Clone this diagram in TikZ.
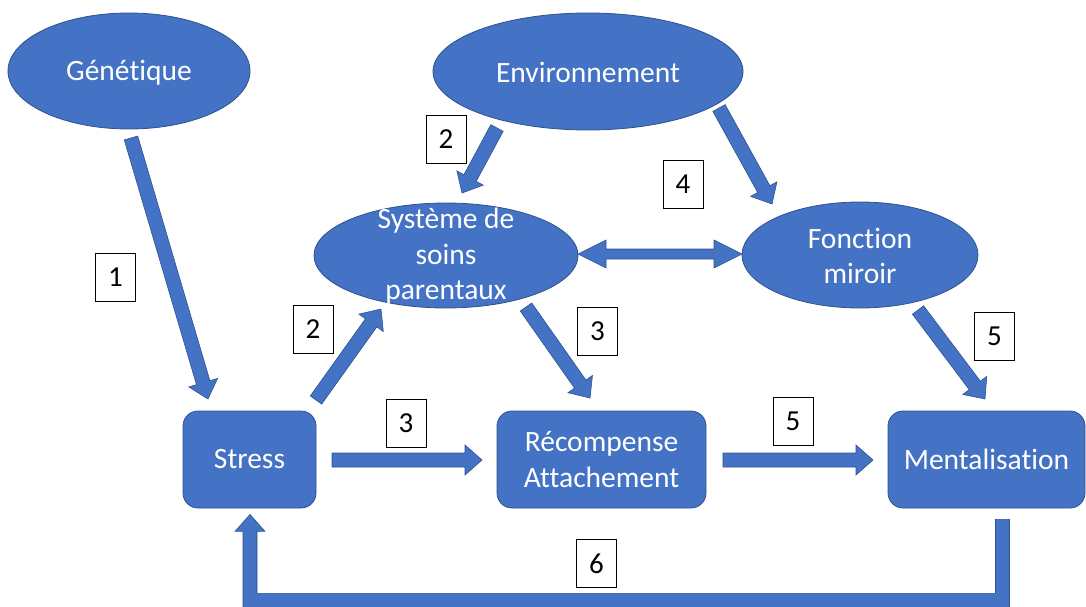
\documentclass[tikz,border=0pt]{standalone}
\usepackage{fontspec}
\setmainfont[Ligatures=NoCommon]{Carlito}
\usetikzlibrary{shapes.geometric,calc}
\definecolor{bfill}{HTML}{4472C4}
\definecolor{bline}{HTML}{2F528F}
\tikzset{
  ell/.style={ellipse, fill=bfill, draw=bline, line width=0.8pt, inner sep=0pt},
  rbox/.style={rectangle, rounded corners=15pt, fill=bfill, draw=bline, line width=0.8pt, inner sep=0pt, align=center, text=white, font=\fontsize{29.5}{35.5}\selectfont},
  txt/.style={text=white, align=center, inner sep=0pt, font=\fontsize{29.5}{35.5}\selectfont},
  numbox/.style={rectangle, draw=black, line width=1pt, fill=white, minimum width=40pt, minimum height=48pt, inner sep=0pt, font=\fontsize{29}{34}\selectfont},
  arrowshape/.style={fill=bfill, draw=bline, line width=0.6pt, line join=miter}
}
\newcommand\blockarr[2]{%
  \coordinate (bh) at ($(#2)!17pt!(#1)$);
  \path[arrowshape] ($(#1)!7pt!90:(#2)$) -- ($(bh)!7pt!90:(#2)$) -- ($(bh)!15pt!90:(#2)$) -- (#2)
    -- ($(bh)!15pt!-90:(#2)$) -- ($(bh)!7pt!-90:(#2)$) -- ($(#1)!7pt!-90:(#2)$) -- cycle;}
\begin{document}
\begin{tikzpicture}[x=1pt,y=-1pt]
\useasboundingbox (0,0) rectangle (1086,607);
% shapes
\node[ell, minimum width=242pt, minimum height=116pt] (gen) at (129,71) {};
\node[txt] at ($(gen)+(0,1.5)$) {Génétique};
\node[ell, minimum width=310pt, minimum height=117pt] (env) at (588,71.5) {};
\node[txt] at ($(env)+(0,0.5)$) {Environnement};
\node[ell, minimum width=264pt, minimum height=105pt] (sys) at (446,255.5) {};
\node[txt] at ($(sys)+(0,1)$) {Système de\\soins\\parentaux};
\node[ell, minimum width=236pt, minimum height=106pt] (fon) at (860,255) {};
\node[txt] at ($(fon)+(0,1)$) {Fonction\\miroir};
\node[rbox, minimum width=133pt, minimum height=97pt] (str) at (249.5,459.5) {Stress};
\node[rbox, minimum width=209pt, minimum height=97pt] (rec) at (601.5,459.5) {Récompense\\Attachement};
\node[rbox, minimum width=197pt, minimum height=97pt] (men) at (986.5,459.5) {Mentalisation};
% arrow end points
\coordinate (a1t) at (131,138);   \coordinate (a1h) at (208,399);
\coordinate (a2t) at (316,400);   \coordinate (a2h) at (381,309);
\coordinate (b2t) at (497,128);   \coordinate (b2h) at (462,193);
\coordinate (b4t) at (719,108);   \coordinate (b4h) at (772,204);
\coordinate (c3t) at (526,307);   \coordinate (c3h) at (590,398);
\coordinate (c5t) at (918,310);   \coordinate (c5h) at (985,399);
\coordinate (h3t) at (332,460);   \coordinate (h3h) at (482,460);
\coordinate (h5t) at (723,460);   \coordinate (h5h) at (873,460);
\coordinate (dl) at (578,254);    \coordinate (dr) at (742,254);
% arrows
\blockarr{a1t}{a1h}
\blockarr{a2t}{a2h}
\blockarr{b2t}{b2h}
\blockarr{b4t}{b4h}
\blockarr{c3t}{c3h}
\blockarr{c5t}{c5h}
\blockarr{h3t}{h3h}
\blockarr{h5t}{h5h}
\path[arrowshape] (dl) -- ($(dl)+(28,-14)$) -- ($(dl)+(28,-5)$) -- ($(dr)+(-28,-5)$) -- ($(dr)+(-28,-14)$) -- (dr)
  -- ($(dr)+(-28,14)$) -- ($(dr)+(-28,5)$) -- ($(dl)+(28,5)$) -- ($(dl)+(28,14)$) -- cycle;
% feedback arrow 6
\coordinate (f6t) at ($(men.south)+(16,11)$);
\coordinate (f6h) at ($(str.south)+(0.5,6)$);
\path[arrowshape] ($(f6t)+(7,0)$) -- ($(f6t)+(7,104)$) -- ($(f6h)+(-7,104)$) -- ($(f6h)+(-7,17)$) -- ($(f6h)+(-15,17)$) -- (f6h)
  -- ($(f6h)+(15,17)$) -- ($(f6h)+(7,17)$) -- ($(f6h)+(7,79)$) -- ($(f6t)+(-7,74)$) -- ($(f6t)+(-7,0)$) -- cycle;
% number labels
\node[numbox] (n1) at (115.5,277.5) {1};
\node[numbox] (n2a) at (446,139.5) {2};
\node[numbox] (n4) at (683,184.5) {4};
\node[numbox] (n2b) at (313,329.5) {2};
\node[numbox] (n3a) at (597.5,331) {3};
\node[numbox] (n5a) at (994.5,336) {5};
\node[numbox] (n3b) at (406,423) {3};
\node[numbox] (n5b) at (793,421.5) {5};
\node[numbox] (n6) at (596.5,563.5) {6};
\end{tikzpicture}
\end{document}
